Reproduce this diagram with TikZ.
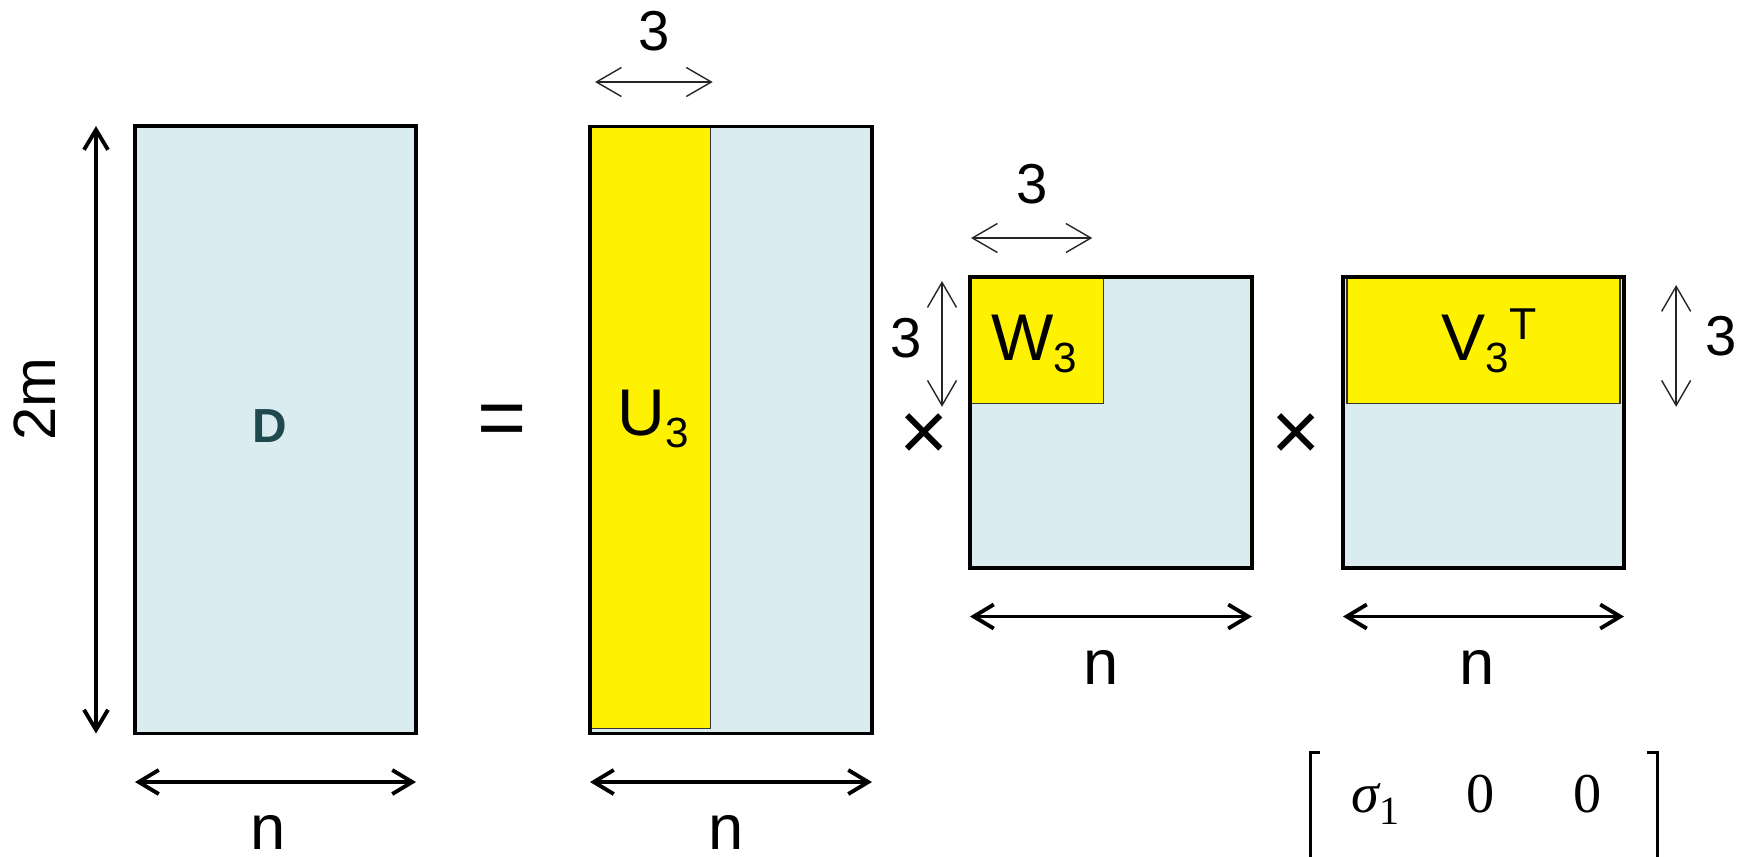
\documentclass[tikz,border=0pt]{standalone}
\usepackage{fontspec}
\setmainfont{Liberation Sans}
\newfontfamily\timesfont{Liberation Serif}
\usetikzlibrary{arrows.meta}
\definecolor{matblue}{RGB}{218,236,240}
\definecolor{dteal}{RGB}{31,73,77}
\tikzset{
  mat_block/.style={rectangle, fill=matblue, inner sep=0pt, outer sep=0pt},
  sel_block/.style={rectangle, draw=black!80, fill=yellow, line width=0.4pt, inner sep=0pt, outer sep=0pt},
  frame_line/.style={line width=1.1pt, black},
  dim_arrow/.style={{Straight Barb[length=2mm, width=2.4mm]}-{Straight Barb[length=2mm, width=2.4mm]}, line width=1.1pt, black},
  dim_thin/.style={{Straight Barb[length=2.5mm, width=2.9mm]}-{Straight Barb[length=2.5mm, width=2.9mm]}, line width=0.4pt, black!85},
  sel_label/.style={font=\fontsize{18.8}{20}\selectfont, inner sep=0pt, anchor=base},
  dim_label/.style={font=\fontsize{16}{18}\selectfont, inner sep=0pt, anchor=base},
  n_label/.style={font=\fontsize{18}{20}\selectfont, inner sep=0pt, anchor=base},
  op_sign/.style={font=\fontsize{24}{26}\selectfont, inner sep=0pt},
  entry/.style={font=\timesfont\fontsize{16}{18}\selectfont, inner sep=0pt, anchor=base},
  bracket_line/.style={line width=0.85pt, black}
}
\newcommand{\idx}[1]{\raisebox{-3.5pt}{\fontsize{12}{12}\selectfont #1}}
\newcommand{\tpose}[1]{\raisebox{5.7pt}{\fontsize{12.7}{13}\selectfont #1}}

\begin{document}
\begin{tikzpicture}[x=0.1mm, y=-0.1mm]
\useasboundingbox (0,0) rectangle (1744,856);

% Matrices
\node (D) [mat_block, minimum width=28.1mm, minimum height=60.75mm] at (275.5,429.75) {};
\node (U) [mat_block, minimum width=28.2mm, minimum height=60.7mm] at (731,430) {};
\node (W) [mat_block, minimum width=28.2mm, minimum height=29.1mm] at (1111,422.5) {};
\node (V) [mat_block, minimum width=28.1mm, minimum height=29.1mm] at (1483.5,422.5) {};

% Kept parts
\node (U3) [sel_block, anchor=north west, minimum width=12.07mm, minimum height=60.2mm] at (U.north west) {};
\node (W3) [sel_block, anchor=north west, minimum width=13.33mm, minimum height=12.63mm] at (W.north west) {};
\node (V3) [sel_block, anchor=north, minimum width=27.33mm, minimum height=12.63mm] at (V.north) {};

\foreach \m in {D, U, W, V} {
    \draw [frame_line] (\m.south west) rectangle (\m.north east);
}

% Labels in the matrices
\node (lD) [font=\fontsize{13.6}{15}\selectfont\bfseries, text=dteal, inner sep=0pt] at (270,426) {D};
\node (lU3) [sel_label] at (653,435) {U\idx{3}};
\node (lW3) [sel_label] at (1034,360) {W\idx{3}};
\node (lV3) [sel_label] at (1489,360) {V\idx{3}\tpose{T}};

% Operators
\node (eq) [op_sign] at (502,426) {=};
\node (x1) [op_sign] at (924,437) {×};
\node (x2) [op_sign] at (1296,437) {×};

% Sizes
\draw [dim_arrow] ([xshift=-3.9mm]D.north west) -- ([xshift=-3.9mm]D.south west);
\node (l2m) [font=\fontsize{17}{19}\selectfont, inner sep=0pt, anchor=base, rotate=90] at (55,399) {2m};

\foreach \m in {D, U, W, V} {
    \draw [dim_arrow] ([yshift=-4.85mm]\m.south west) -- ([yshift=-4.85mm]\m.south east);
}
\node (nD) [n_label] at (268,849) {n};
\node (nU) [n_label] at (726,849) {n};
\node (nW) [n_label] at (1101,684) {n};
\node (nV) [n_label] at (1477,684) {n};

\draw [dim_thin] ([xshift=0.5mm, yshift=4.45mm]U3.north west) -- ([xshift=0.2mm, yshift=4.45mm]U3.north east);
\node (tU) [dim_label] at (654,50) {3};

\draw [dim_thin] ([xshift=0.1mm, yshift=3.9mm]W3.north west) -- ([xshift=-1.1mm, yshift=3.9mm]W3.north east);
\node (tW) [dim_label] at (1032,203.5) {3};

\draw [dim_thin] ([xshift=-2.8mm, yshift=-0.4mm]W3.north west) -- ([xshift=-2.8mm, yshift=-0.35mm]W3.south west);
\node (sW) [dim_label] at (906,357) {3};

\draw [dim_thin] ([xshift=5.6mm, yshift=-0.8mm]V3.north east) -- ([xshift=5.6mm, yshift=-0.35mm]V3.south east);
\node (sV) [dim_label] at (1721,355) {3};

% Singular values
\node (s11) [entry] at (1375.5,812.7) {\itshape σ\raisebox{-3.3pt}{\fontsize{11.4}{12}\selectfont\upshape 1}};
\node (s12) [entry] at (1480.7,812.7) {0};
\node (s13) [entry] at (1587.5,812.7) {0};
\draw [bracket_line] (1320,752) -- (1310,752) -- (1310,860);
\draw [bracket_line] (1647,752) -- (1657,752) -- (1657,860);
\end{tikzpicture}
\end{document}
